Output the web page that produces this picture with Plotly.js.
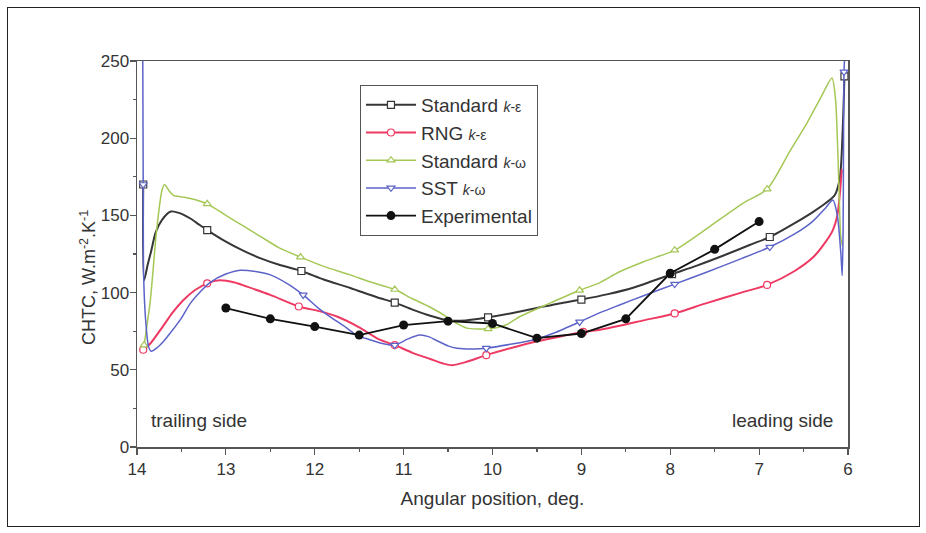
<!DOCTYPE html>
<html><head><meta charset="utf-8">
<script src="https://cdn.plot.ly/plotly-3.0.1.min.js"></script>
<style>
body{margin:0;background:#fff}
#frame{position:absolute;left:7px;top:7px;width:911px;height:518px;border:1.5px solid #222;pointer-events:none}
</style>
</head><body>
<div id="chart" style="width:926px;height:533px"></div><div id="frame"></div>
<script>
// ---- data ----
const kEpsX = [13.93, 13.92, 13.88, 13.84, 13.79, 13.72, 13.62, 13.52, 13.4, 13.3, 13.21, 13.0, 12.8, 12.6, 12.4, 12.15, 11.9, 11.6, 11.3, 11.1, 10.9, 10.7, 10.5, 10.3, 10.05, 9.8, 9.5, 9.25, 9.0, 8.7, 8.4, 8.2, 7.98, 7.7, 7.4, 7.1, 6.88, 6.6, 6.4, 6.25, 6.15, 6.09, 6.06, 6.04];
const kEpsY = [170, 108, 118, 127, 139, 147, 152.5, 151.5, 148, 144, 140.5, 133, 127, 122, 118, 114, 108.5, 103, 97, 93.5, 89, 85, 82, 82, 84, 86.5, 90, 93, 95.5, 99, 103.5, 107.5, 112, 117.5, 124, 131, 136, 145, 152, 158, 163, 175, 205, 240];
const kEpsMarks = [0, 10, 15, 19, 24, 28, 32, 36, 43];

const rngX = [13.93, 13.85, 13.71, 13.6, 13.48, 13.35, 13.21, 13.07, 12.9, 12.77, 12.5, 12.18, 11.95, 11.75, 11.5, 11.27, 11.1, 10.9, 10.7, 10.55, 10.45, 10.3, 10.07, 9.8, 9.5, 9.2, 8.98, 8.79, 8.57, 8.3, 7.95, 7.6, 7.2, 6.91, 6.6, 6.39, 6.25, 6.17, 6.12, 6.09, 6.07];
const rngY = [63, 67, 78, 87, 95, 101.5, 106, 108, 106.5, 104, 98.5, 91, 88, 84.5, 77.5, 69.5, 66, 61, 57, 54, 53, 55, 59.5, 64, 68.5, 72, 74.5, 76, 78.5, 82, 86.5, 93, 100, 105, 114, 123, 133, 140.5, 150, 165, 180];
const rngMarks = [0, 6, 11, 16, 22, 26, 30, 33];

const kOmX = [13.92, 13.85, 13.78, 13.72, 13.69, 13.64, 13.59, 13.5, 13.4, 13.21, 13.0, 12.8, 12.6, 12.4, 12.16, 11.9, 11.6, 11.38, 11.1, 10.9, 10.7, 10.52, 10.4, 10.29, 10.05, 9.85, 9.69, 9.4, 9.02, 8.79, 8.57, 8.3, 7.95, 7.6, 7.18, 6.91, 6.65, 6.46, 6.3, 6.18, 6.14, 6.12, 6.1, 6.08, 6.06];
const kOmY = [66, 95, 140, 166, 170, 166, 163, 162, 161, 157.5, 150, 143, 136, 129, 123, 117, 111.5, 107, 102, 96, 90.5, 84.5, 80, 77, 76.5, 79, 84.5, 92, 101.5, 106.5, 113.5, 120, 127.5, 141, 158, 167, 192, 210, 227, 239, 225, 200, 165, 135, 130];
const kOmMarks = [0, 9, 14, 18, 24, 28, 32, 35];

const sstX = [13.935, 13.93, 13.925, 13.9, 13.87, 13.84, 13.78, 13.7, 13.63, 13.5, 13.4, 13.28, 13.18, 13.0, 12.84, 12.65, 12.5, 12.3, 12.13, 11.95, 11.83, 11.65, 11.53, 11.38, 11.2, 11.1, 10.95, 10.82, 10.72, 10.63, 10.5, 10.4, 10.2, 10.07, 9.8, 9.5, 9.3, 9.02, 8.79, 8.57, 8.3, 7.95, 7.6, 7.2, 6.88, 6.6, 6.4, 6.25, 6.17, 6.12, 6.08, 6.065, 6.055, 6.05, 6.045, 6.04];
const sstY = [250, 170, 110, 80, 65, 62, 64, 68.5, 73.5, 83.5, 93, 101, 106.5, 112, 114.5, 113.5, 111.5, 105.5, 98.5, 89.5, 84.5, 77.5, 72.5, 69.5, 66.5, 66, 70, 72.5, 71.5, 69, 65.5, 64, 63.5, 64, 66.5, 70, 74, 81, 87, 92, 98, 105.5, 113, 122, 129.5, 138, 146, 155, 160, 150, 125, 111, 140, 200, 243, 250];
const sstMarks = [1, 18, 25, 33, 37, 41, 44, 54];

const expX = [13, 12.5, 12, 11.5, 11, 10.5, 10, 9.5, 9, 8.5, 8, 7.5, 7];
const expY = [90, 83, 78, 72.5, 79, 81.5, 80, 70.5, 73.5, 83, 112.5, 128, 146];

const seriesNames = [
  'Standard <span style="font-size:14px"><i>k</i>-ε</span>',
  'RNG <span style="font-size:14px"><i>k</i>-ε</span>',
  'Standard <span style="font-size:14px"><i>k</i>-ω</span>',
  'SST <span style="font-size:14px"><i>k</i>-ω</span>',
  'Experimental'
];
const xTickVals = [14, 13, 12, 11, 10, 9, 8, 7, 6];
const yTickVals = [0, 50, 100, 150, 200, 250];
const sideLabels = ['trailing side', 'leading side'];
const xTitle = 'Angular position, deg.';
const yTitle = 'CHTC, W.m<sup>-2</sup>.K<sup>-1</sup>';

// ---- drawing ----
const FONT = 'Liberation Sans, Arial, sans-serif';
function sim(x, y, marks, name, color, width, symbol) {
  return {
    x: x, y: y, name: name, type: 'scatter', mode: 'lines+markers',
    line: {color: color, width: width, shape: 'spline', smoothing: 0.7},
    marker: {symbol: symbol, size: 7, color: '#ffffff', line: {color: color, width: 1.2}},
    selectedpoints: marks,
    selected: {marker: {opacity: 1}},
    unselected: {marker: {opacity: 0}},
    cliponaxis: true, hoverinfo: 'x+y'
  };
}
const traces = [
  sim(kEpsX, kEpsY, kEpsMarks, seriesNames[0], '#363636', 2, 'square'),
  sim(rngX, rngY, rngMarks, seriesNames[1], '#ee3a63', 2, 'circle'),
  sim(kOmX, kOmY, kOmMarks, seriesNames[2], '#a5c755', 1.5, 'triangle-up'),
  sim(sstX, sstY, sstMarks, seriesNames[3], '#5c63c8', 1.5, 'triangle-down'),
  {x: expX, y: expY, name: seriesNames[4], type: 'scatter', mode: 'lines+markers',
   line: {color: '#111111', width: 1.8}, marker: {symbol: 'circle', size: 9, color: '#111111'}}
];

const layout = {
  width: 926, height: 533,
  margin: {l: 137, r: 78, t: 61, b: 86},
  paper_bgcolor: '#ffffff', plot_bgcolor: '#ffffff',
  font: {family: FONT, size: 17, color: '#333'},
  showlegend: true,
  legend: {
    x: 0.3136, y: 0.938, xanchor: 'left', yanchor: 'top',
    bgcolor: '#ffffff', bordercolor: '#555', borderwidth: 1,
    font: {family: FONT, size: 19, color: '#333'},
    itemwidth: 50, tracegroupgap: 0
  },
  xaxis: {
    range: [14, 6], tickvals: xTickVals, ticktext: xTickVals.map(String),
    showgrid: false, zeroline: false, showline: true, mirror: true,
    linecolor: '#555', linewidth: 1.5,
    ticks: 'outside', ticklen: 6, tickcolor: '#555', tickwidth: 1.2,
    minor: {ticks: 'outside', ticklen: 3, dtick: 0.5, tickcolor: '#555', showgrid: false},
    tickfont: {family: FONT, size: 17, color: '#333'},
    title: {text: xTitle, font: {family: FONT, size: 19, color: '#333'}, standoff: 14}
  },
  yaxis: {
    range: [0, 250], tickvals: yTickVals, ticktext: yTickVals.map(String),
    showgrid: false, zeroline: false, showline: true, mirror: true,
    linecolor: '#555', linewidth: 1.5,
    ticks: 'outside', ticklen: 6, tickcolor: '#555', tickwidth: 1.2,
    minor: {ticks: 'outside', ticklen: 3, dtick: 25, tickcolor: '#555', showgrid: false},
    tickfont: {family: FONT, size: 17, color: '#333'},
    ticklabelstandoff: -3
  },
  annotations: [
    {x: -0.069, y: 0.44, xref: 'paper', yref: 'paper', text: yTitle, textangle: -90, showarrow: false,
     xanchor: 'center', yanchor: 'middle', font: {family: FONT, size: 18, color: '#333'}},
    {x: 13.86, y: 17, xref: 'x', yref: 'y', text: sideLabels[0], showarrow: false, xanchor: 'left', yanchor: 'middle',
     font: {family: FONT, size: 19, color: '#333'}},
    {x: 6.15, y: 17, xref: 'x', yref: 'y', text: sideLabels[1], showarrow: false, xanchor: 'right', yanchor: 'middle',
     font: {family: FONT, size: 19, color: '#333'}}
  ]
};
Plotly.newPlot('chart', traces, layout, {displayModeBar: false, staticPlot: true});
</script>
</body></html>
